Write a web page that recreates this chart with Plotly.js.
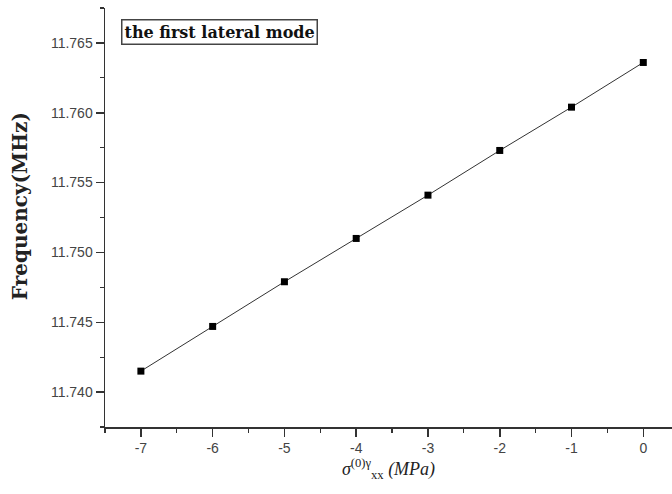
<!DOCTYPE html>
<html>
<head>
<meta charset="utf-8">
<script src="https://cdn.plot.ly/plotly-3.0.1.min.js"></script>
<style>html,body{margin:0;padding:0;background:#fff;}#chart{width:672px;height:494px;}</style>
</head>
<body>
<div id="chart"></div>
<script>
const stress = [-7, -6, -5, -4, -3, -2, -1, 0];
const frequency = [11.7415, 11.7447, 11.7479, 11.7510, 11.7541, 11.7573, 11.7604, 11.7636];
const xTickVals = [-7, -6, -5, -4, -3, -2, -1, 0];
const xTickText = ['-7', '-6', '-5', '-4', '-3', '-2', '-1', '0'];
const yTickVals = [11.740, 11.745, 11.750, 11.755, 11.760, 11.765];
const yTickText = ['11.740', '11.745', '11.750', '11.755', '11.760', '11.765'];
const boxLabel = 'the first lateral mode';
const yTitle = 'Frequency(MHz)';

const trace = {
  x: stress, y: frequency, type: 'scatter', mode: 'lines+markers',
  line: {color: '#333', width: 1},
  marker: {symbol: 'square', size: 7, color: '#000'},
  showlegend: false
};

const layout = {
  width: 672, height: 494,
  margin: {l: 105, r: 0, t: 8, b: 67},
  paper_bgcolor: '#fff', plot_bgcolor: '#fff',
  xaxis: {
    range: [-7.5, 0.4], showgrid: false, zeroline: false,
    showline: true, linecolor: '#333', linewidth: 1.5,
    ticks: 'outside', ticklen: 8, tickwidth: 1.5, tickcolor: '#333',
    tickvals: xTickVals, ticktext: xTickText,
    minor: {dtick: 0.5, ticks: 'outside', ticklen: 4, tickwidth: 1.2, tickcolor: '#333'},
    tickfont: {family: 'Liberation Sans, Arial', size: 14, color: '#444'},
    title: {text: '<i>σ</i><sup>(0)γ</sup><sub>xx</sub> <i>(MPa)</i>', font: {family: 'Liberation Serif, Times New Roman', size: 18, color: '#222'}, standoff: 6}
  },
  yaxis: {
    range: [11.7375, 11.7675], showgrid: false, zeroline: false,
    showline: true, linecolor: '#333', linewidth: 1.5,
    ticks: 'outside', ticklen: 8, tickwidth: 1.5, tickcolor: '#333',
    tickvals: yTickVals, ticktext: yTickText,
    minor: {dtick: 0.0025, ticks: 'outside', ticklen: 4, tickwidth: 1.2, tickcolor: '#333'},
    tickfont: {family: 'Liberation Sans, Arial', size: 14, color: '#444'}
  },
  annotations: [{
    text: '<b>' + boxLabel + '</b>', xref: 'paper', yref: 'paper',
    x: 0.029, y: 0.973, xanchor: 'left', yanchor: 'top', showarrow: false,
    font: {family: 'DejaVu Serif', size: 16, color: '#111'},
    bordercolor: '#444', borderwidth: 1.5, borderpad: 2, bgcolor: '#fff'
  }, {
    text: '<b>' + yTitle + '</b>', xref: 'paper', yref: 'paper',
    x: -0.15, y: 0.527, xanchor: 'center', yanchor: 'middle', showarrow: false,
    textangle: -90,
    font: {family: 'DejaVu Serif', size: 20, color: '#222'}
  }]
};

Plotly.newPlot('chart', [trace], layout, {staticPlot: true, displayModeBar: false});
</script>
</body>
</html>
